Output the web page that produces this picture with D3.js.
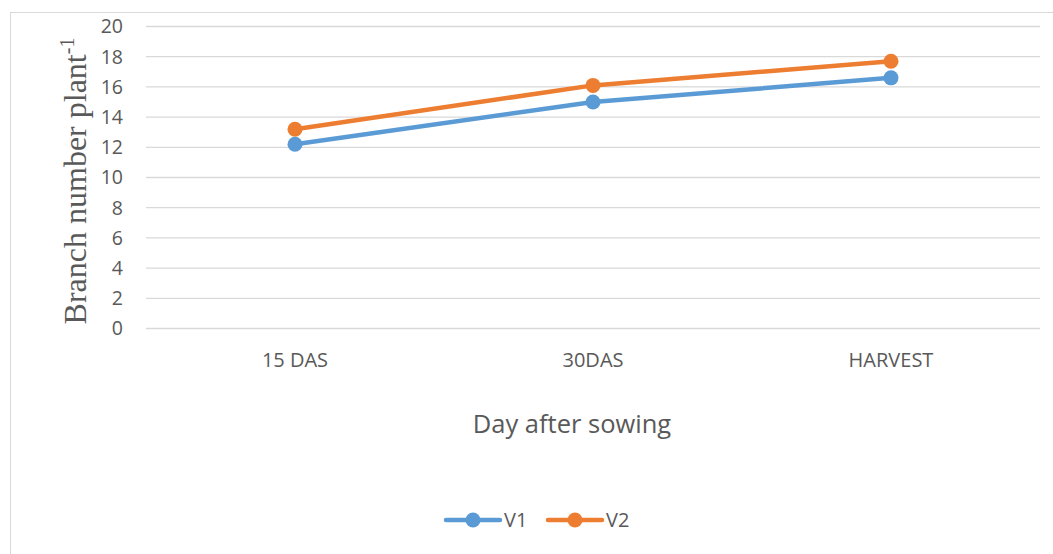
<!DOCTYPE html>
<html>
<head>
<meta charset="utf-8">
<script src="https://cdn.jsdelivr.net/npm/d3@7"></script>
<style>
  body { margin: 0; background: #fff; }
  text { font-family: "Open Sans", "Liberation Sans", sans-serif; fill: #595959; }
</style>
</head>
<body>
<svg id="chart" width="1053" height="554"></svg>
<script>
// datos
const categorias = ['15 DAS', '30DAS', 'HARVEST'];
const v1 = [12.2, 15.0, 16.6];
const v2 = [13.2, 16.1, 17.7];
const yTicks = [0, 2, 4, 6, 8, 10, 12, 14, 16, 18, 20];
const series = [
  { name: 'V1', values: v1, color: '#5B9BD5' },
  { name: 'V2', values: v2, color: '#ED7D31' }
];

const svg = d3.select('#chart');

// borde del area del grafico
svg.append('rect')
  .attr('x', 10.5).attr('y', 12.5)
  .attr('width', 1060).attr('height', 560)
  .attr('fill', 'none').attr('stroke', '#d9d9d9').attr('stroke-width', 1);

const x = d3.scaleBand().domain(categorias).range([146, 1040]);
const y = d3.scaleLinear().domain([0, 20]).range([328.5, 26.5]);

// lineas de cuadricula
svg.append('g').selectAll('line')
  .data(yTicks)
  .join('line')
  .attr('x1', 146).attr('x2', 1040)
  .attr('y1', d => y(d)).attr('y2', d => y(d))
  .attr('stroke', '#d9d9d9').attr('stroke-width', 1.3);

// etiquetas del eje y
svg.append('g').selectAll('text')
  .data(yTicks)
  .join('text')
  .attr('x', 123)
  .attr('y', d => y(d))
  .attr('dy', '0.35em')
  .attr('text-anchor', 'end')
  .style('font-size', '19.5px')
  .text(d => d);

// etiquetas del eje x
svg.append('g').selectAll('text')
  .data(categorias)
  .join('text')
  .attr('x', d => x(d) + x.bandwidth() / 2)
  .attr('y', 360)
  .attr('dy', '0.35em')
  .attr('text-anchor', 'middle')
  .style('font-size', '20px')
  .text(d => d);

// titulo eje x
svg.append('text')
  .attr('x', 572).attr('y', 424)
  .attr('dy', '0.35em')
  .attr('text-anchor', 'middle')
  .style('font-size', '25.5px')
  .text('Day after sowing');

// titulo eje y (serif, con superindice)
const yTitle = svg.append('text')
  .attr('transform', 'translate(86,181) rotate(-90)')
  .attr('text-anchor', 'middle')
  .style('font-family', '"Liberation Serif", "DejaVu Serif", serif')
  .style('font-size', '32px');
yTitle.append('tspan').text('Branch number plant');
yTitle.append('tspan').attr('dy', -12).style('font-size', '20px').text('-1');

// lineas de las series
const linea = d3.line()
  .x((d, i) => x(categorias[i]) + x.bandwidth() / 2)
  .y(d => y(d));

series.forEach(s => {
  svg.append('path')
    .datum(s.values)
    .attr('d', linea)
    .attr('fill', 'none')
    .attr('stroke', s.color)
    .attr('stroke-width', 4.5)
    .attr('stroke-linejoin', 'round');

  svg.append('g').selectAll('circle')
    .data(s.values)
    .join('circle')
    .attr('cx', (d, i) => x(categorias[i]) + x.bandwidth() / 2)
    .attr('cy', d => y(d))
    .attr('r', 7.5)
    .attr('fill', s.color);
});

// leyenda
const legend = svg.append('g');
series.forEach((s, i) => {
  const lx = 446 + i * 102;
  legend.append('line')
    .attr('x1', lx).attr('x2', lx + 54)
    .attr('y1', 520).attr('y2', 520)
    .attr('stroke', s.color).attr('stroke-width', 4.5)
    .attr('stroke-linecap', 'round');
  legend.append('circle')
    .attr('cx', lx + 27).attr('cy', 520).attr('r', 7.5)
    .attr('fill', s.color);
  legend.append('text')
    .attr('x', lx + 58).attr('y', 520)
    .attr('dy', '0.35em')
    .style('font-size', '20px')
    .text(s.name);
});
</script>
</body>
</html>
